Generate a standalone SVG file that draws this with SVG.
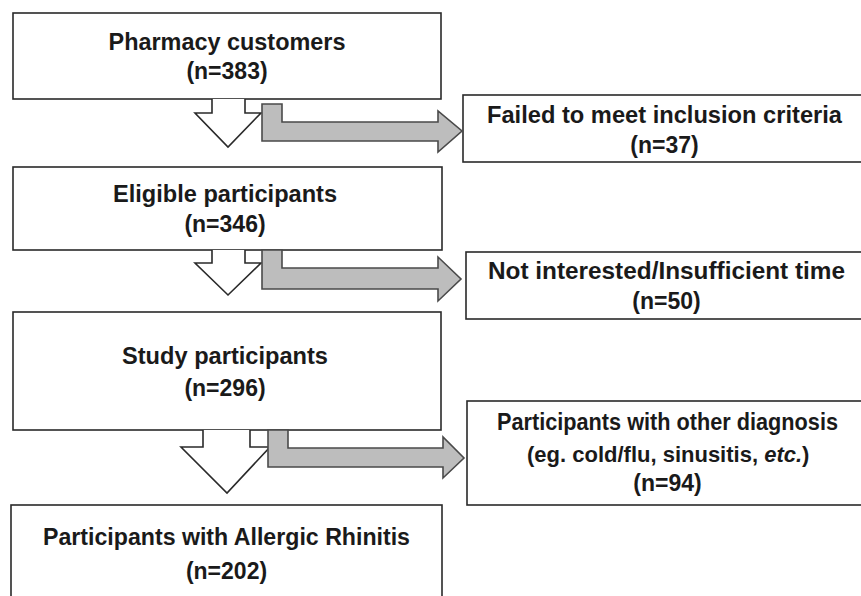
<svg xmlns="http://www.w3.org/2000/svg" width="861" height="596" viewBox="0 0 861 596">
<defs>
<style>
.box{fill:#fff;stroke:#2a2a2a;stroke-width:1.6}
.t{font-family:"Liberation Sans",Arial,sans-serif;font-weight:bold;font-size:23px;fill:#1a1a1a;text-anchor:middle}
.s{text-anchor:start;font-size:22px}
.down{fill:#fff;stroke:#2a2a2a;stroke-width:1.6;stroke-linejoin:miter}
.side{fill:#bdbdbd;stroke:#4a4a4a;stroke-width:1.6;stroke-linejoin:miter}
</style>
</defs>
<rect width="861" height="596" fill="#fff"/>
<g id="node-pharmacy">
<rect class="box" x="13" y="13" width="428" height="86"/>
<text class="t" x="227" y="50" textLength="237" lengthAdjust="spacingAndGlyphs">Pharmacy customers</text>
<text class="t" x="227" y="79">(n=383)</text>
</g>
<g id="node-failed">
<rect class="box" x="463" y="95" width="410" height="67"/>
<text class="t" x="664.5" y="123" textLength="355" lengthAdjust="spacingAndGlyphs">Failed to meet inclusion criteria</text>
<text class="t" x="664.5" y="152.5">(n=37)</text>
</g>
<g id="node-eligible">
<rect class="box" x="13" y="167" width="429" height="83"/>
<text class="t" x="225" y="202" textLength="224" lengthAdjust="spacingAndGlyphs">Eligible participants</text>
<text class="t" x="225" y="232">(n=346)</text>
</g>
<g id="node-notinterested">
<rect class="box" x="466" y="252" width="410" height="67"/>
<text class="t" x="666.5" y="279" textLength="357" lengthAdjust="spacingAndGlyphs">Not interested/Insufficient time</text>
<text class="t" x="666.5" y="309">(n=50)</text>
</g>
<g id="node-study">
<rect class="box" x="13" y="312" width="428" height="118"/>
<text class="t" x="225" y="364" textLength="206" lengthAdjust="spacingAndGlyphs">Study participants</text>
<text class="t" x="225" y="396">(n=296)</text>
</g>
<g id="node-other">
<rect class="box" x="467" y="401" width="410" height="104"/>
<text class="t" x="667.5" y="430" textLength="341" lengthAdjust="spacingAndGlyphs">Participants with other diagnosis</text>
<text class="t s" x="527" y="462">(eg. cold/flu, sinusitis, <tspan font-style="italic">etc.</tspan>)</text>
<text class="t" x="667.5" y="491">(n=94)</text>
</g>
<g id="node-allergic">
<rect class="box" x="11" y="505" width="431" height="110"/>
<text class="t" x="226.5" y="545" textLength="367" lengthAdjust="spacingAndGlyphs">Participants with Allergic Rhinitis</text>
<text class="t" x="226.5" y="579">(n=202)</text>
</g>
<g id="connectors">
<path class="down" d="M212,99 V113 H195 L228,147 L261,113 H245 V99"/>
<path class="side" d="M262,104 H282 V122 H438 V111 L462,131 L438,152 V141 H262 Z"/>
<path class="down" d="M212,250 V263 H195 L228,295 L261,263 H245 V250"/>
<path class="side" d="M262,250 H282 V268 H438 V257 L461,279 L438,301 V289 H262 Z"/>
<path class="down" d="M203,430 V447 H181 L227,493 L270,447 H250 V430"/>
<path class="side" d="M268,430 H288 V448 H443 V437 L464,458 L443,478 V467 H268 Z"/>
</g>
</svg>
